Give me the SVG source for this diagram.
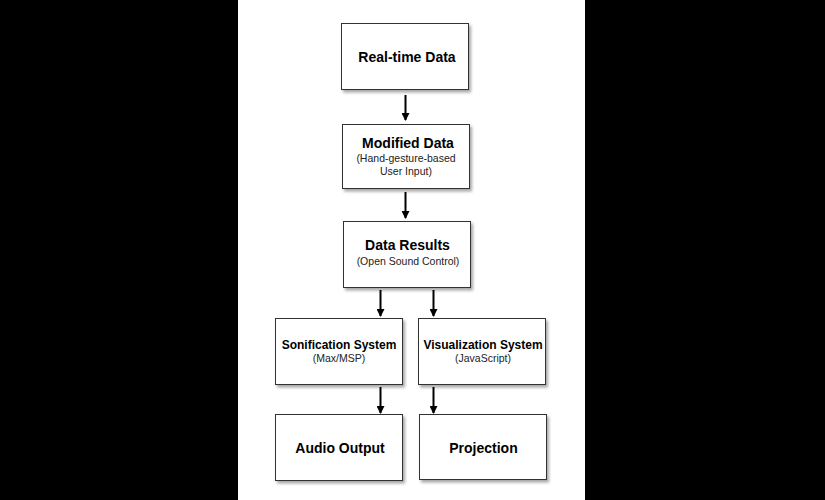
<svg xmlns="http://www.w3.org/2000/svg" width="825" height="500" viewBox="0 0 825 500">
<style>
.box{fill:#fff;stroke:#333;stroke-width:1;filter:url(#sh)}
.t{font-family:"Liberation Sans",Arial,sans-serif;font-weight:bold;font-size:14px;fill:#000;text-anchor:middle}
.ts{font-family:"Liberation Sans",Arial,sans-serif;font-weight:bold;font-size:12px;fill:#000;text-anchor:middle}
.s{font-family:"Liberation Sans",Arial,sans-serif;font-size:10.5px;fill:#222;text-anchor:middle}
.c{stroke:#000;stroke-width:2;fill:none;marker-end:url(#ah)}
</style>
<defs>
<filter id="sh" x="-10%" y="-10%" width="130%" height="130%">
<feDropShadow dx="2" dy="2.5" stdDeviation="1.5" flood-color="#000" flood-opacity="0.35"/>
</filter>
<marker id="ah" viewBox="0 0 8 8" refX="7" refY="4" markerWidth="8" markerHeight="8" markerUnits="userSpaceOnUse" orient="auto">
<path d="M0,0 L8,4 L0,8 Z" fill="#000"/>
</marker>
</defs>
<rect x="0" y="0" width="825" height="500" fill="#000"/>
<rect x="238" y="0" width="347" height="500" fill="#fff"/>
<g id="connectors">
<line class="c" x1="405.5" y1="95" x2="405.5" y2="120"/>
<line class="c" x1="405.5" y1="192" x2="405.5" y2="218"/>
<line class="c" x1="380.5" y1="290" x2="380.5" y2="316"/>
<line class="c" x1="433.5" y1="290" x2="433.5" y2="316"/>
<line class="c" x1="380.5" y1="387" x2="380.5" y2="413"/>
<line class="c" x1="433.5" y1="387" x2="433.5" y2="413"/>
</g>
<g id="realtime">
<rect class="box" x="341.5" y="23.5" width="127" height="66"/>
<text class="t" x="407" y="62">Real-time Data</text>
</g>
<g id="modified">
<rect class="box" x="342.5" y="124.5" width="127" height="64"/>
<text class="t" x="408" y="148">Modified Data</text>
<text class="s" x="406" y="162">(Hand-gesture-based</text>
<text class="s" x="406" y="175">User Input)</text>
</g>
<g id="results">
<rect class="box" x="343.5" y="221.5" width="127" height="66"/>
<text class="t" x="407.5" y="250">Data Results</text>
<text class="s" x="408" y="265">(Open Sound Control)</text>
</g>
<g id="sonification">
<rect class="box" x="275.5" y="318.5" width="127" height="66"/>
<text class="ts" x="339" y="349">Sonification System</text>
<text class="s" x="339" y="362">(Max/MSP)</text>
</g>
<g id="visualization">
<rect class="box" x="418.5" y="318.5" width="127" height="66"/>
<text class="ts" x="483" y="349">Visualization System</text>
<text class="s" x="483" y="362">(JavaScript)</text>
</g>
<g id="audio">
<rect class="box" x="275.5" y="414.5" width="127" height="66"/>
<text class="t" x="340" y="453">Audio Output</text>
</g>
<g id="projection">
<rect class="box" x="419.5" y="414.5" width="127" height="65"/>
<text class="t" x="483.5" y="453">Projection</text>
</g>
</svg>
